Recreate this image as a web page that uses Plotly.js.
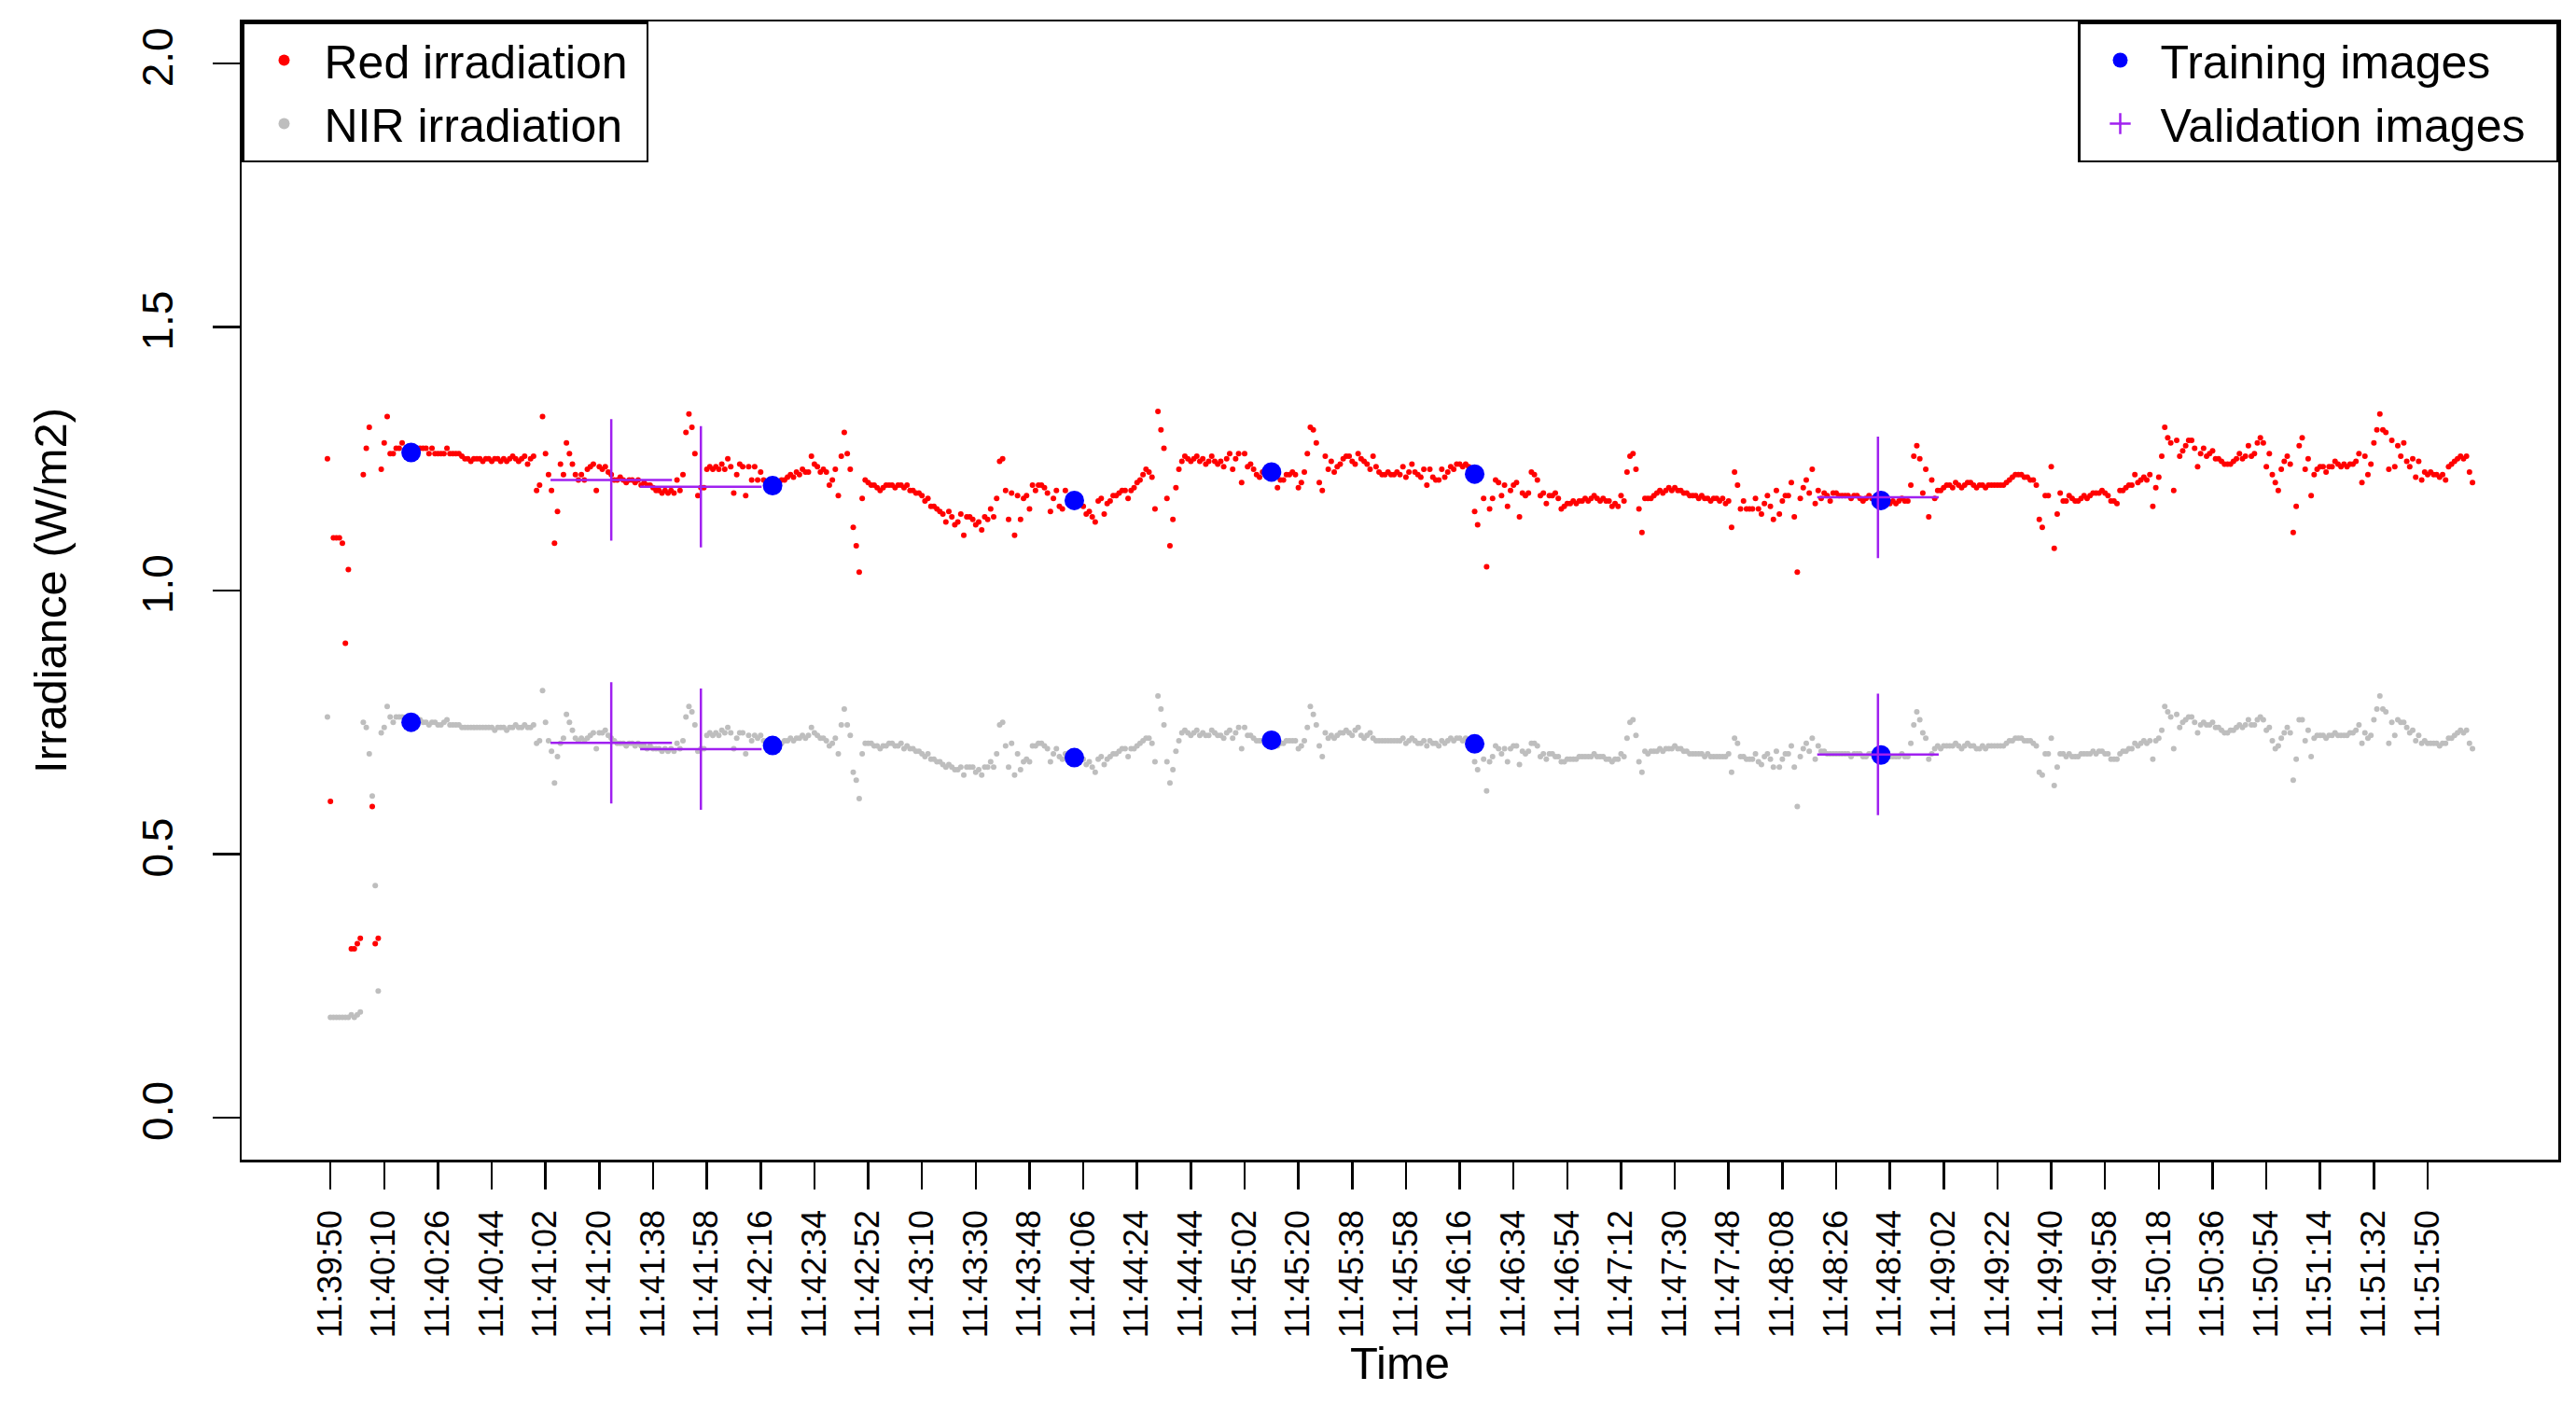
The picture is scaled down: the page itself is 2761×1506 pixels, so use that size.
<!DOCTYPE html>
<html>
<head>
<meta charset="utf-8">
<script src="https://cdn.plot.ly/plotly-3.0.1.min.js"></script>
<style>
  html, body { margin: 0; padding: 0; background: #ffffff; }
  #chart { width: 2761px; height: 1506px; }
</style>
</head>
<body>
<div id="chart"></div>
<script>
// ---- Data (sample index 1..719, one value per sample) ----
const red = [
  1.25,0.60,1.10,1.10,1.10,1.09,0.90,1.04,0.32,0.32,0.33,0.34,1.22,1.27,1.31,0.59,0.33,0.34,
  1.23,1.28,1.33,1.26,1.26,1.27,1.27,1.28,1.26,1.26,1.27,1.27,1.26,1.27,1.27,1.27,1.26,1.27,
  1.26,1.26,1.26,1.26,1.27,1.26,1.26,1.26,1.26,1.255,1.25,1.25,1.245,1.25,1.25,1.25,1.245,1.25,
  1.25,1.245,1.25,1.25,1.245,1.25,1.245,1.25,1.255,1.25,1.245,1.25,1.255,1.24,1.25,1.255,1.19,1.20,
  1.33,1.26,1.22,1.19,1.09,1.15,1.24,1.22,1.28,1.26,1.24,1.22,1.21,1.22,1.21,1.23,1.235,1.24,
  1.19,1.235,1.23,1.235,1.225,1.22,1.21,1.21,1.215,1.21,1.205,1.21,1.21,1.205,1.21,1.20,1.205,1.20,
  1.20,1.195,1.19,1.19,1.185,1.19,1.185,1.19,1.185,1.21,1.19,1.22,1.30,1.335,1.31,1.26,1.18,1.195,
  1.195,1.23,1.235,1.23,1.235,1.23,1.24,1.23,1.25,1.235,1.185,1.22,1.24,1.235,1.18,1.235,1.21,1.235,
  1.21,1.225,1.21,1.205,1.20,1.20,1.205,1.20,1.21,1.21,1.215,1.22,1.215,1.225,1.22,1.23,1.225,1.225,
  1.255,1.24,1.235,1.225,1.23,1.225,1.20,1.21,1.23,1.18,1.255,1.30,1.26,1.23,1.12,1.085,1.035,1.175,
  1.21,1.205,1.20,1.20,1.195,1.19,1.195,1.20,1.20,1.20,1.195,1.20,1.20,1.195,1.20,1.19,1.19,1.185,
  1.185,1.18,1.17,1.175,1.16,1.16,1.155,1.15,1.145,1.13,1.15,1.14,1.125,1.13,1.145,1.105,1.14,1.14,
  1.135,1.125,1.13,1.115,1.14,1.135,1.155,1.14,1.175,1.245,1.25,1.19,1.135,1.185,1.105,1.18,1.135,1.175,
  1.18,1.155,1.20,1.19,1.20,1.20,1.195,1.185,1.15,1.175,1.19,1.16,1.155,1.19,1.175,1.18,1.175,1.18,
  1.17,1.16,1.145,1.15,1.14,1.13,1.17,1.175,1.145,1.165,1.17,1.18,1.18,1.185,1.19,1.19,1.175,1.19,
  1.195,1.205,1.21,1.22,1.23,1.225,1.215,1.155,1.34,1.305,1.27,1.175,1.085,1.135,1.195,1.23,1.245,1.255,
  1.25,1.245,1.25,1.255,1.245,1.25,1.24,1.245,1.255,1.245,1.24,1.245,1.235,1.25,1.26,1.23,1.25,1.26,
  1.205,1.26,1.235,1.24,1.23,1.22,1.215,1.225,1.22,1.225,1.225,1.22,1.195,1.21,1.21,1.22,1.22,1.225,
  1.22,1.195,1.205,1.225,1.26,1.31,1.305,1.28,1.205,1.19,1.255,1.23,1.245,1.225,1.235,1.24,1.25,1.255,
  1.255,1.245,1.24,1.26,1.25,1.245,1.24,1.23,1.255,1.235,1.225,1.22,1.22,1.225,1.22,1.22,1.225,1.22,
  1.235,1.215,1.225,1.24,1.225,1.22,1.215,1.23,1.20,1.23,1.215,1.21,1.21,1.23,1.215,1.225,1.235,1.23,
  1.24,1.24,1.235,1.24,1.235,1.22,1.15,1.125,1.225,1.175,1.045,1.155,1.175,1.21,1.205,1.18,1.20,1.16,
  1.19,1.20,1.205,1.14,1.185,1.18,1.185,1.225,1.22,1.21,1.18,1.185,1.165,1.18,1.18,1.185,1.175,1.155,
  1.16,1.165,1.165,1.17,1.165,1.17,1.17,1.175,1.17,1.175,1.18,1.175,1.17,1.175,1.17,1.17,1.16,1.165,
  1.16,1.18,1.17,1.225,1.255,1.26,1.23,1.155,1.11,1.175,1.175,1.175,1.18,1.185,1.19,1.185,1.19,1.195,
  1.19,1.195,1.19,1.19,1.185,1.185,1.18,1.18,1.18,1.175,1.18,1.175,1.175,1.17,1.175,1.175,1.17,1.175,
  1.165,1.17,1.12,1.225,1.20,1.155,1.17,1.155,1.155,1.155,1.175,1.155,1.145,1.165,1.18,1.16,1.135,1.19,
  1.145,1.17,1.18,1.18,1.205,1.14,1.035,1.175,1.195,1.21,1.185,1.23,1.165,1.19,1.175,1.185,1.18,1.17,
  1.185,1.185,1.18,1.18,1.18,1.18,1.175,1.18,1.18,1.175,1.17,1.175,1.18,1.175,1.175,1.175,1.175,1.17,
  1.17,1.165,1.17,1.165,1.17,1.175,1.17,1.17,1.20,1.255,1.275,1.25,1.185,1.23,1.14,1.21,1.175,1.19,
  1.19,1.195,1.20,1.20,1.195,1.205,1.20,1.195,1.20,1.205,1.205,1.20,1.195,1.20,1.20,1.195,1.20,1.20,
  1.20,1.20,1.20,1.20,1.205,1.21,1.215,1.22,1.22,1.22,1.215,1.215,1.21,1.21,1.20,1.135,1.12,1.18,
  1.18,1.235,1.08,1.145,1.185,1.17,1.17,1.18,1.175,1.17,1.17,1.175,1.18,1.175,1.18,1.185,1.185,1.185,
  1.19,1.185,1.18,1.17,1.17,1.165,1.19,1.19,1.195,1.20,1.20,1.22,1.205,1.21,1.215,1.21,1.22,1.16,
  1.195,1.215,1.255,1.31,1.29,1.28,1.19,1.285,1.255,1.265,1.275,1.285,1.285,1.27,1.235,1.26,1.27,1.255,
  1.26,1.265,1.25,1.25,1.245,1.24,1.24,1.24,1.245,1.25,1.26,1.25,1.255,1.275,1.255,1.26,1.28,1.29,
  1.28,1.235,1.26,1.22,1.205,1.19,1.23,1.245,1.255,1.24,1.11,1.16,1.275,1.29,1.23,1.25,1.18,1.22,
  1.23,1.235,1.235,1.225,1.235,1.235,1.245,1.24,1.235,1.24,1.235,1.24,1.24,1.245,1.26,1.205,1.255,1.22,
  1.24,1.28,1.305,1.335,1.305,1.30,1.23,1.285,1.235,1.275,1.255,1.28,1.245,1.235,1.25,1.215,1.245,1.21,
  1.225,1.22,1.225,1.22,1.22,1.215,1.22,1.21,1.235,1.24,1.245,1.25,1.255,1.25,1.255,1.225,1.205
];

const nir = [
  0.76,0.19,0.19,0.19,0.19,0.19,0.19,0.19,0.195,0.19,0.195,0.20,0.75,0.74,0.69,0.61,0.44,0.24,
  0.73,0.74,0.78,0.76,0.75,0.76,0.76,0.76,0.755,0.75,0.755,0.755,0.75,0.755,0.75,0.75,0.745,0.75,
  0.75,0.745,0.745,0.75,0.755,0.745,0.745,0.745,0.745,0.74,0.74,0.74,0.74,0.74,0.74,0.74,0.74,0.74,
  0.74,0.74,0.735,0.74,0.74,0.74,0.735,0.74,0.74,0.745,0.74,0.74,0.745,0.74,0.74,0.745,0.71,0.715,
  0.81,0.75,0.715,0.695,0.635,0.685,0.71,0.72,0.765,0.75,0.735,0.72,0.715,0.72,0.715,0.72,0.725,0.73,
  0.70,0.73,0.73,0.735,0.725,0.72,0.715,0.71,0.71,0.71,0.705,0.71,0.71,0.705,0.71,0.705,0.705,0.70,
  0.705,0.70,0.70,0.70,0.695,0.70,0.695,0.70,0.695,0.71,0.70,0.715,0.76,0.78,0.77,0.745,0.695,0.70,
  0.70,0.725,0.73,0.725,0.73,0.725,0.735,0.73,0.74,0.73,0.70,0.72,0.73,0.73,0.69,0.725,0.715,0.725,
  0.72,0.725,0.715,0.71,0.705,0.705,0.71,0.705,0.71,0.715,0.715,0.72,0.715,0.72,0.72,0.725,0.72,0.725,
  0.74,0.73,0.725,0.72,0.72,0.715,0.705,0.71,0.72,0.69,0.745,0.775,0.745,0.725,0.655,0.64,0.605,0.69,
  0.71,0.71,0.71,0.705,0.705,0.70,0.705,0.705,0.71,0.71,0.705,0.705,0.71,0.70,0.705,0.70,0.70,0.695,
  0.695,0.69,0.685,0.69,0.68,0.68,0.675,0.675,0.67,0.665,0.67,0.665,0.66,0.66,0.665,0.65,0.665,0.665,
  0.665,0.655,0.66,0.65,0.665,0.665,0.675,0.665,0.69,0.745,0.75,0.705,0.665,0.71,0.65,0.69,0.66,0.675,
  0.68,0.675,0.705,0.705,0.71,0.71,0.705,0.70,0.675,0.69,0.70,0.685,0.68,0.69,0.685,0.685,0.685,0.685,
  0.685,0.68,0.67,0.675,0.665,0.655,0.68,0.685,0.67,0.68,0.685,0.69,0.69,0.695,0.70,0.70,0.685,0.70,
  0.70,0.705,0.71,0.715,0.72,0.72,0.71,0.675,0.80,0.775,0.745,0.675,0.635,0.66,0.695,0.715,0.73,0.735,
  0.73,0.725,0.73,0.735,0.725,0.73,0.725,0.725,0.735,0.73,0.725,0.725,0.72,0.73,0.735,0.72,0.73,0.74,
  0.70,0.74,0.725,0.725,0.72,0.715,0.715,0.715,0.715,0.715,0.715,0.715,0.705,0.71,0.71,0.715,0.715,0.715,
  0.715,0.70,0.705,0.715,0.74,0.78,0.765,0.745,0.705,0.685,0.73,0.72,0.725,0.72,0.725,0.73,0.73,0.735,
  0.73,0.725,0.735,0.74,0.725,0.72,0.725,0.73,0.72,0.715,0.715,0.715,0.715,0.715,0.715,0.715,0.715,0.715,
  0.72,0.71,0.715,0.72,0.715,0.71,0.71,0.715,0.705,0.715,0.71,0.71,0.705,0.715,0.71,0.715,0.72,0.715,
  0.72,0.72,0.715,0.72,0.715,0.71,0.675,0.66,0.71,0.68,0.62,0.675,0.685,0.705,0.70,0.69,0.70,0.675,
  0.70,0.705,0.705,0.67,0.695,0.69,0.695,0.71,0.71,0.705,0.685,0.69,0.68,0.69,0.69,0.685,0.685,0.675,
  0.675,0.68,0.68,0.68,0.68,0.685,0.685,0.685,0.685,0.685,0.69,0.685,0.685,0.685,0.68,0.68,0.675,0.68,
  0.68,0.69,0.685,0.72,0.75,0.755,0.725,0.675,0.655,0.695,0.69,0.695,0.695,0.695,0.70,0.695,0.70,0.70,
  0.70,0.705,0.70,0.70,0.695,0.695,0.69,0.69,0.69,0.69,0.69,0.685,0.69,0.685,0.685,0.685,0.685,0.685,
  0.685,0.69,0.655,0.72,0.71,0.685,0.685,0.68,0.68,0.68,0.69,0.675,0.67,0.685,0.69,0.68,0.665,0.695,
  0.665,0.68,0.69,0.69,0.705,0.665,0.59,0.685,0.70,0.71,0.695,0.72,0.68,0.705,0.695,0.695,0.69,0.69,
  0.69,0.69,0.69,0.69,0.69,0.69,0.685,0.69,0.69,0.69,0.685,0.685,0.69,0.69,0.69,0.69,0.69,0.69,
  0.685,0.685,0.685,0.685,0.685,0.69,0.685,0.685,0.71,0.745,0.77,0.755,0.73,0.72,0.68,0.69,0.70,0.705,
  0.70,0.705,0.705,0.705,0.705,0.71,0.705,0.70,0.705,0.71,0.705,0.705,0.70,0.70,0.705,0.70,0.705,0.705,
  0.705,0.705,0.705,0.705,0.71,0.715,0.715,0.72,0.72,0.72,0.715,0.715,0.715,0.71,0.705,0.655,0.65,0.69,
  0.69,0.72,0.63,0.665,0.69,0.69,0.685,0.69,0.685,0.685,0.685,0.69,0.69,0.69,0.69,0.695,0.69,0.695,
  0.695,0.69,0.69,0.68,0.68,0.68,0.69,0.695,0.695,0.70,0.70,0.71,0.705,0.71,0.715,0.71,0.715,0.68,
  0.715,0.72,0.735,0.78,0.77,0.76,0.70,0.765,0.74,0.75,0.755,0.76,0.76,0.75,0.73,0.745,0.75,0.745,
  0.745,0.75,0.74,0.74,0.735,0.73,0.73,0.735,0.735,0.74,0.745,0.74,0.745,0.755,0.745,0.745,0.755,0.76,
  0.755,0.735,0.74,0.715,0.70,0.705,0.72,0.73,0.74,0.73,0.64,0.68,0.755,0.755,0.715,0.735,0.685,0.72,
  0.725,0.725,0.725,0.72,0.725,0.725,0.73,0.725,0.725,0.725,0.725,0.73,0.73,0.735,0.745,0.71,0.73,0.72,
  0.725,0.755,0.775,0.80,0.775,0.77,0.71,0.75,0.725,0.755,0.75,0.75,0.74,0.73,0.735,0.715,0.725,0.71,
  0.715,0.71,0.71,0.71,0.71,0.705,0.71,0.71,0.72,0.72,0.725,0.73,0.735,0.73,0.735,0.71,0.70
];

// Training images (sample index and irradiance)
const trainIdx = [29, 150, 251, 317, 385, 521];
const trainRed = [1.262, 1.199, 1.171, 1.225, 1.221, 1.171];
const trainNir = [0.750, 0.706, 0.683, 0.716, 0.709, 0.688];

// Validation images
const valIdx = [96, 126, 520];
const valRed = [1.210, 1.197, 1.177];
const valNir = [0.711, 0.699, 0.689];

// Time tick labels (one every 18 samples, starting at sample 2)
const tickLabels = [
  "11:39:50","11:40:10","11:40:26","11:40:44","11:41:02","11:41:20","11:41:38","11:41:58",
  "11:42:16","11:42:34","11:42:52","11:43:10","11:43:30","11:43:48","11:44:06","11:44:24",
  "11:44:44","11:45:02","11:45:20","11:45:38","11:45:58","11:46:16","11:46:34","11:46:54",
  "11:47:12","11:47:30","11:47:48","11:48:08","11:48:26","11:48:44","11:49:02","11:49:22",
  "11:49:40","11:49:58","11:50:18","11:50:36","11:50:54","11:51:14","11:51:32","11:51:50"
];
const yTickVals = [0, 0.5, 1, 1.5, 2];
const yTickText = ["0.0", "0.5", "1.0", "1.5", "2.0"];

// ---- Build ----
const idx = red.map((_, i) => i + 1);
const tickVals = tickLabels.map((_, k) => 2 + 18 * k);
const n = red.length;
const pad = 0.04 * (n - 1);

const FONT = "Liberation Sans, Arial, Helvetica, sans-serif";
const NB = "\u00A0";

const traces = [
  {
    type: "scatter", mode: "markers", name: "Red irradiation" + NB,
    x: idx, y: red,
    marker: { color: "#FF0000", size: 6 },
    legend: "legend", hoverinfo: "x+y"
  },
  {
    type: "scatter", mode: "markers", name: "NIR irradiation" + NB,
    x: idx, y: nir,
    marker: { color: "#BEBEBE", size: 6 },
    legend: "legend", hoverinfo: "x+y"
  },
  {
    type: "scatter", mode: "markers", name: "Training images" + NB + NB,
    x: trainIdx.concat(trainIdx), y: trainRed.concat(trainNir),
    marker: { color: "#0000FF", size: 21 },
    legend: "legend2"
  },
  {
    type: "scatter", mode: "markers", name: "Validation images" + NB + NB,
    x: valIdx.concat(valIdx), y: valRed.concat(valNir),
    marker: { symbol: "cross-thin-open", color: "#A020F0", size: 93,
              line: { color: "#A020F0", width: 2.5 } },
    legend: "legend2"
  }
];

const layout = {
  width: 2761, height: 1506,
  margin: { l: 259, r: 19, t: 23, b: 263, pad: 0 },
  paper_bgcolor: "#ffffff", plot_bgcolor: "#ffffff",
  font: { family: FONT, color: "#000000", size: 49 },
  showlegend: true,
  xaxis: {
    range: [1 - pad, n + pad],
    showgrid: false, zeroline: false,
    showline: true, mirror: true, linecolor: "#000000", linewidth: 2.5,
    ticks: "outside", ticklen: 29, tickwidth: 2.5, tickcolor: "#000000",
    tickmode: "array", tickvals: tickVals, ticktext: tickLabels,
    tickangle: -90, tickfont: { family: FONT, size: 36, color: "#000000" },
    ticklabelstandoff: 8,
    title: { text: "Time", font: { family: FONT, size: 49, color: "#000000" }, standoff: 0 }
  },
  yaxis: {
    range: [-0.08, 2.08],
    showgrid: false, zeroline: false,
    showline: true, mirror: true, linecolor: "#000000", linewidth: 2.5,
    ticks: "outside", ticklen: 29, tickwidth: 2.5, tickcolor: "#000000",
    tickmode: "array", tickvals: yTickVals, ticktext: yTickText,
    tickangle: -90, tickfont: { family: FONT, size: 46, color: "#000000" },
    ticklabelstandoff: 24,
    title: { text: "Irradiance (W/m2)", font: { family: FONT, size: 49, color: "#000000" }, standoff: 56 }
  },
  legend: {
    x: 0, y: 1, xanchor: "left", yanchor: "top",
    bgcolor: "#ffffff", bordercolor: "#000000", borderwidth: 2.5,
    font: { family: FONT, size: 50, color: "#000000" },
    itemsizing: "constant", itemwidth: 76, tracegroupgap: 0
  },
  legend2: {
    x: 1, y: 1, xanchor: "right", yanchor: "top",
    bgcolor: "#ffffff", bordercolor: "#000000", borderwidth: 2.5,
    font: { family: FONT, size: 50, color: "#000000" },
    itemsizing: "trace", itemwidth: 76, tracegroupgap: 0
  }
};

Plotly.newPlot("chart", traces, layout, { displayModeBar: false, staticPlot: true });
</script>
</body>
</html>
